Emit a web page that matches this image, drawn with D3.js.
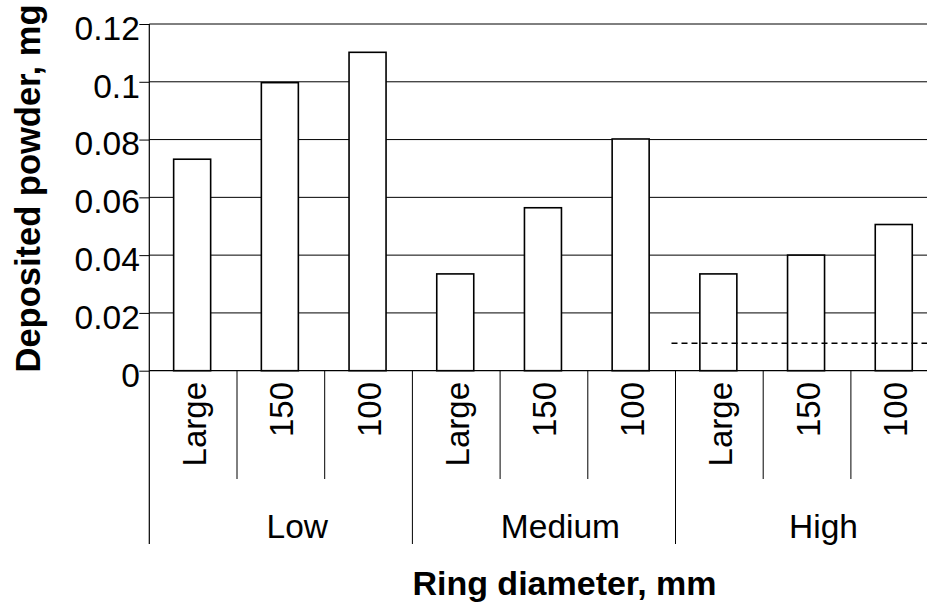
<!DOCTYPE html>
<html><head><meta charset="utf-8">
<script src="https://cdn.jsdelivr.net/npm/d3@7"></script>
<style>html,body{margin:0;padding:0;background:#fff;overflow:hidden}</style>
</head><body><svg id="c" width="927" height="603"></svg>
<script>
const groups = ["Low", "Medium", "High"];
const sizes = ["Large", "150", "100"];
const lowValues = [0.0732, 0.0997, 0.1102];
const mediumValues = [0.0335, 0.0564, 0.0802];
const highValues = [0.0335, 0.0400, 0.0506];
const yTicks = [0, 0.02, 0.04, 0.06, 0.08, 0.1, 0.12];
const yTickLabels = ["0", "0.02", "0.04", "0.06", "0.08", "0.1", "0.12"];
const thresholdValue = 0.0095;
const thresholdGroup = "High";
const yTitle = "Deposited powder, mg";
const xTitle = "Ring diameter, mm";

const seriesByGroup = [lowValues, mediumValues, highValues];
const data = groups.flatMap((g, i) => sizes.map((s, j) => ({
  group: g, size: s, key: g + "|" + s, value: seriesByGroup[i][j]
})));

const FONT = "'Liberation Sans', Arial, Helvetica, sans-serif";
const svg = d3.select("#c").style("font-family", FONT);

const left = 149.3, bandW = 87.7;
const x = d3.scaleBand().domain(data.map(d => d.key)).range([left, left + data.length * bandW]).padding(0);
const y = d3.scaleLinear().domain([0, 0.12]).range([370.7, 24]);
const xg = d3.scaleBand().domain(groups).range([left, left + data.length * bandW]).padding(0);
const right = left + data.length * bandW;
const subBottom = 479, groupBottom = 544;

// gridlines
svg.append("g").selectAll("line").data(yTicks.filter(t => t > 0)).join("line")
  .attr("x1", left).attr("x2", right)
  .attr("y1", d => y(d)).attr("y2", d => y(d))
  .attr("stroke", "#000").attr("stroke-width", 1);

// bars
const barW = 37;
svg.append("g").selectAll("rect").data(data).join("rect")
  .attr("x", d => x(d.key) + (x.bandwidth() - barW) / 2 - 1)
  .attr("width", barW)
  .attr("y", d => y(d.value))
  .attr("height", d => y(0) - y(d.value))
  .attr("fill", "#fff").attr("stroke", "#000").attr("stroke-width", 1.6);

// threshold dashed line
svg.append("line")
  .attr("x1", xg(thresholdGroup) - 4).attr("x2", right)
  .attr("y1", y(thresholdValue)).attr("y2", y(thresholdValue))
  .attr("stroke", "#000").attr("stroke-width", 1.6).attr("stroke-dasharray", "6,4");

// y axis
const yAxis = d3.axisLeft(y).tickValues(yTicks)
  .tickFormat((d, i) => yTickLabels[i]).tickSize(10).tickSizeOuter(0).tickPadding(0);
const ya = svg.append("g").attr("transform", `translate(${left},0)`).call(yAxis);
ya.select(".domain").remove();
ya.selectAll(".tick line").attr("stroke", "#000").attr("stroke-width", 1);
ya.selectAll(".tick text").attr("font-size", 33.5).attr("font-family", FONT)
  .attr("fill", "#000").attr("x", -9.5).attr("dy", "0.46em");

// y axis line extended down
svg.append("line").attr("x1", left).attr("x2", left).attr("y1", y(0.12)).attr("y2", groupBottom)
  .attr("stroke", "#000").attr("stroke-width", 1.2);
// x axis baseline
svg.append("line").attr("x1", left).attr("x2", right).attr("y1", y(0)).attr("y2", y(0))
  .attr("stroke", "#000").attr("stroke-width", 1.2);

// category separators
const seps = d3.range(1, data.length + 1);
svg.append("g").selectAll("line").data(seps).join("line")
  .attr("x1", i => left + i * x.bandwidth()).attr("x2", i => left + i * x.bandwidth())
  .attr("y1", y(0)).attr("y2", i => i % sizes.length === 0 ? groupBottom : subBottom)
  .attr("stroke", "#000").attr("stroke-width", 1);

// category labels (rotated)
svg.append("g").selectAll("text").data(data).join("text")
  .attr("transform", d => `translate(${x(d.key) + x.bandwidth() / 2 + 12.5},382) rotate(-90)`)
  .attr("text-anchor", "end").attr("font-size", 33).attr("fill", "#000")
  .text(d => d.size);

// group labels
svg.append("g").selectAll("text").data(groups).join("text")
  .attr("x", g => xg(g) + xg.bandwidth() / 2 + 16.5).attr("y", 537.5)
  .attr("text-anchor", "middle").attr("font-size", 33.5).attr("fill", "#000")
  .text(g => g);

// axis titles
svg.append("text").attr("x", 564.5).attr("y", 595).attr("text-anchor", "middle")
  .attr("font-size", 34).attr("font-weight", "bold").attr("fill", "#000").text(xTitle);
svg.append("text").attr("transform", "translate(40,188.5) rotate(-90)").attr("text-anchor", "middle")
  .attr("font-size", 34.5).attr("font-weight", "bold").attr("fill", "#000").text(yTitle);
</script>
</body></html>
